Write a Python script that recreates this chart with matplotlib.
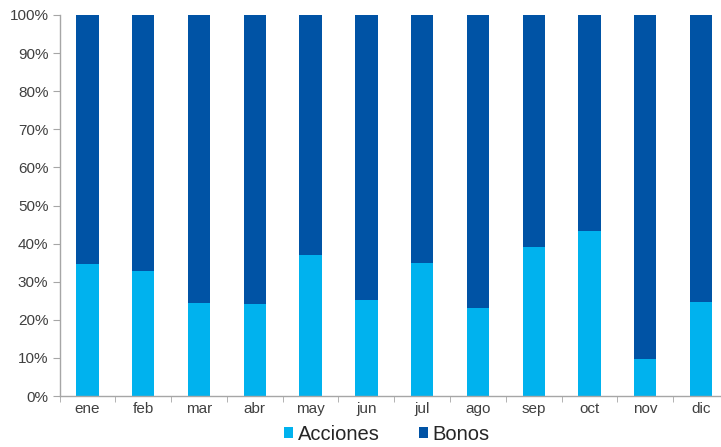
import matplotlib
matplotlib.use("Agg")
import matplotlib.pyplot as plt
import numpy as np
from matplotlib.ticker import PercentFormatter

categories = ["ene", "feb", "mar", "abr", "may", "jun", "jul", "ago", "sep", "oct", "nov", "dic"]
acciones = [34.7, 32.9, 24.5, 24.2, 36.9, 25.3, 35.0, 23.0, 39.0, 43.2, 9.7, 24.8]
bonos = [100 - a for a in acciones]
yticks = list(range(0, 101, 10))

light = "#00B2EE"
dark = "#0053A5"
grey_text = "#404040"
spine_c = "#A6A6A6"

plt.rcParams['font.family'] = ['Liberation Sans', 'DejaVu Sans']

fig = plt.figure(figsize=(7.21, 4.47), dpi=100)
ax = fig.add_axes([59.5/721, 1-396/447, (729-59.5)/721, (396-15)/447])

x = np.arange(len(categories))
w = 0.4
ax.bar(x, acciones, width=w, color=light, label="Acciones", zorder=2)
ax.bar(x, bonos, width=w, bottom=acciones, color=dark, label="Bonos", zorder=2)

ax.set_xlim(-0.5, len(categories) - 0.5)
ax.set_ylim(0, 100)
ax.set_yticks(yticks)
ax.yaxis.set_major_formatter(PercentFormatter(decimals=0))
ax.set_xticks(x)
ax.set_xticklabels(categories)
ax.set_xticks(np.arange(-0.5, len(categories), 1), minor=True)

for s in ["top", "right"]:
    ax.spines[s].set_visible(False)
for s in ["left", "bottom"]:
    ax.spines[s].set_color(spine_c)
    ax.spines[s].set_linewidth(1.0)

ax.tick_params(axis="y", length=5, color=spine_c, labelsize=11, labelcolor=grey_text, pad=3)
ax.tick_params(axis="x", which="major", length=0, labelsize=11, labelcolor=grey_text, pad=4)
ax.tick_params(axis="x", which="minor", length=4, color=spine_c)

leg = fig.legend(loc="center", bbox_to_anchor=(387/721, 1-434/447), ncol=2, frameon=False,
                 fontsize=14.5, handlelength=0.45, handleheight=0.45, handletextpad=0.25,
                 columnspacing=1.9, labelcolor="#262626")

fig.savefig("out.png", dpi=100)
